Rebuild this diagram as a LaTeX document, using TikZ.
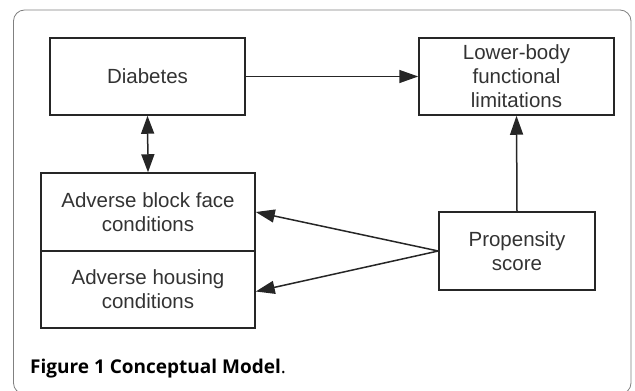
\documentclass[tikz,border=0pt]{standalone}
\usepackage{fontspec}
\setmainfont{Liberation Sans}
\newfontfamily\capfont{Open Sans}
\usetikzlibrary{arrows.meta}
\begin{document}
\begin{tikzpicture}[x=1pt,y=-1pt,
  box/.style={draw=black!85, line width=1.5pt, inner sep=0pt, align=center,
    font=\fontsize{20.5}{24}\selectfont, text=black!80},
  conn/.style={draw=black!85, line width=1.5pt, -{Triangle[length=19pt,width=13pt]}},
  dconn/.style={draw=black!85, line width=1.5pt, {Triangle[length=18pt,width=13pt]}-{Triangle[length=18pt,width=13pt]}}]
\useasboundingbox (0,0) rectangle (635,391);
\draw[black!50, line width=0.8pt, rounded corners=11pt] (13.5,394) rectangle (631,10);
\node[box, minimum width=195pt, minimum height=77pt] (dia) at (147.5,76.5) {Diabetes};
\node[box, minimum width=195pt, minimum height=77pt] (low) at (516.5,76.5) {Lower-body\\functional\\limitations};
\node[box, minimum width=214pt, minimum height=78pt] (blk) at (148,212) {Adverse block face\\conditions};
\node[box, minimum width=214pt, minimum height=77pt] (hou) at (148,289.5) {Adverse housing\\conditions};
\node[box, minimum width=156pt, minimum height=78pt] (pro) at (517,251) {Propensity\\score};
\draw[conn] (dia.east) -- (low.west);
\draw[dconn] (dia.south) -- (blk.north);
\draw[conn] (pro.north) -- (low.south);
\draw[conn] (pro.west) -- (blk.east);
\draw[conn] (pro.west) -- ([yshift=-2pt]hou.east);
\node[anchor=base west, inner sep=0pt, font=\capfont\fontsize{19}{22}\selectfont, text=black] (cap) at (30,373) {\bfseries Figure 1 Conceptual Model\mdseries.};
\end{tikzpicture}
\end{document}
